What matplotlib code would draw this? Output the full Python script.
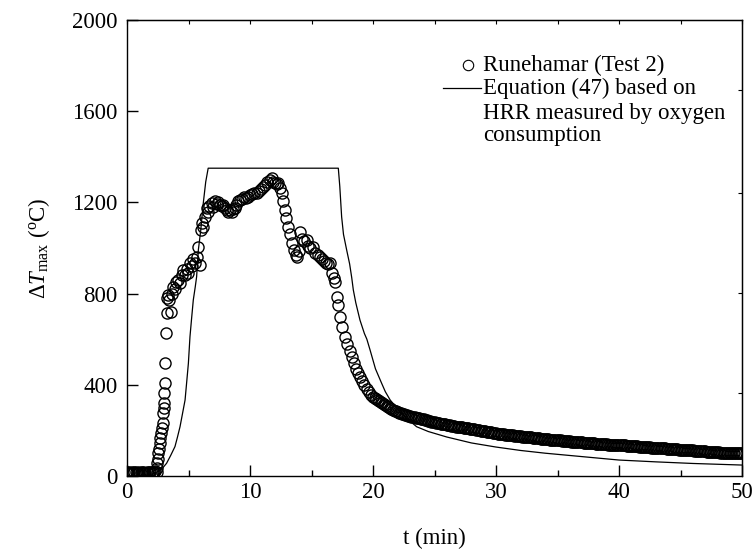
import matplotlib
matplotlib.use('Agg')
import matplotlib.pyplot as plt
import numpy as np

plt.rcParams['font.family'] = ['Liberation Serif', 'DejaVu Serif']
plt.rcParams['mathtext.fontset'] = 'custom'
plt.rcParams['mathtext.rm'] = 'Liberation Serif'
plt.rcParams['mathtext.it'] = 'Liberation Serif:italic'

# measured temperature rise, Runehamar Test 2 (circles)
t_start = [0.0, 0.1, 0.2, 0.3, 0.4, 0.5, 0.6, 0.7, 0.8, 0.9, 1.0, 1.1,
           1.2, 1.3, 1.4, 1.5, 1.6, 1.7, 1.8, 1.9, 2.0, 2.1, 2.2, 2.3]
dT_start = [16, 15, 17, 14, 16, 15, 16, 17, 15, 14, 16, 15,
            17, 16, 15, 14, 16, 15, 16, 17, 15, 16, 18, 20]

t_rise = [2.40, 2.43, 2.46, 2.50, 2.55, 2.60, 2.68, 2.72, 2.76, 2.83, 2.90,
          2.95, 2.98, 3.00, 3.03, 3.09, 3.12, 3.17, 3.22, 3.25, 3.30]
dT_rise = [19, 35, 56, 75, 99, 120, 143, 165, 187, 210, 231,
           275, 300, 319, 363, 406, 494, 628, 713, 780, 794]

t_peak = [3.45, 3.55, 3.65, 3.77, 3.9, 4.0, 4.17, 4.3, 4.45, 4.58, 4.7, 4.85,
          4.96, 5.12, 5.25, 5.4, 5.53, 5.66, 5.8, 5.93, 6.0, 6.1, 6.2, 6.34,
          6.48, 6.6, 6.7, 6.89, 7.0, 7.15, 7.3, 7.42, 7.55, 7.7, 7.83, 8.0,
          8.15, 8.25, 8.37, 8.5, 8.65, 8.78, 8.9, 9.05, 9.19, 9.35, 9.5, 9.7,
          9.86, 10.0, 10.2, 10.35, 10.54, 10.7, 10.9, 11.08, 11.25, 11.4, 11.6,
          11.76, 11.9, 12.05, 12.2, 12.3, 12.45, 12.58, 12.7, 12.85, 12.95,
          13.1, 13.25, 13.4, 13.55, 13.7, 13.8, 13.95, 14.07, 14.2, 14.35,
          14.6, 14.75, 14.9, 15.15, 15.3, 15.5, 15.7, 15.85, 16.0, 16.2,
          16.35, 16.5, 16.64, 16.8]
dT_peak = [772, 720, 800, 830, 820, 850, 860, 845, 880, 903, 880, 910,
           890, 934, 920, 950, 933, 962, 1006, 925, 1079, 1110, 1090, 1137,
           1174, 1160, 1185, 1196, 1180, 1205, 1195, 1203, 1190, 1185, 1189, 1175,
           1165, 1160, 1167, 1158, 1170, 1174, 1190, 1205, 1211, 1215, 1222, 1220,
           1225, 1232, 1235, 1240, 1240, 1250, 1260, 1269, 1275, 1290, 1300,
           1306, 1290, 1285, 1280, 1284, 1265, 1240, 1205, 1167, 1130,
           1094, 1060, 1020, 990, 970, 962, 985, 1072, 1040, 1030,
           1035, 1010, 1000, 1006, 980, 970, 962, 950, 945, 935,
           930, 933, 889, 870]

t_drop = [16.9, 17.05, 17.15, 17.3, 17.5, 17.7, 17.9, 18.1, 18.27, 18.45,
          18.6, 18.8, 18.94, 19.1, 19.3, 19.5, 19.7, 19.85, 20.0]
dT_drop = [850, 787, 750, 699, 655, 611, 580, 550, 523, 495,
           470, 450, 436, 418, 400, 382, 368, 356, 348]

# decay, logged every 7.5 s from 20.125 to 50 min
t_tail = np.arange(20.125, 50.001, 0.125)
dT_tail = [343, 338, 334, 329, 324, 320, 316, 312, 307, 303, 298, 294, 290, 287, 284, 281,
           278, 275, 272, 270, 268, 266, 264, 262, 260, 259, 257, 256, 254, 253, 251, 250,
           248, 247, 245, 243, 241, 239, 237, 235, 233, 232, 231, 230, 228, 227, 226, 225,
           223, 222, 221, 220, 218, 217, 216, 215, 214, 213, 212, 211, 210, 209, 207, 206,
           205, 204, 202, 201, 200, 199, 198, 197, 196, 195, 193, 192, 191, 190, 188, 187,
           186, 186, 185, 184, 183, 182, 181, 181, 180, 179, 178, 177, 176, 176, 175, 174,
           173, 173, 172, 171, 170, 170, 169, 168, 167, 167, 166, 165, 164, 164, 163, 162,
           161, 161, 160, 159, 158, 158, 157, 157, 156, 156, 155, 155, 154, 153, 152, 152,
           151, 151, 150, 150, 149, 149, 148, 147, 146, 146, 145, 145, 144, 144, 143, 143,
           142, 142, 141, 141, 140, 140, 139, 139, 138, 138, 137, 137, 136, 136, 136, 136,
           135, 135, 134, 134, 133, 133, 132, 132, 131, 131, 130, 130, 129, 129, 128, 128,
           127, 127, 126, 126, 125, 125, 124, 124, 123, 123, 122, 122, 121, 121, 120, 120,
           119, 119, 118, 118, 117, 117, 116, 116, 115, 115, 114, 114, 113, 113, 112, 112,
           111, 111, 110, 110, 109, 109, 108, 108, 107, 107, 106, 106, 105, 105, 104, 104,
           104, 103, 103, 103, 102, 102, 101, 101, 101, 101, 100, 100, 100, 100, 99, 99]

t_meas = np.concatenate([t_start, t_rise, t_peak, t_drop, t_tail])
dT_meas = np.concatenate([dT_start, dT_rise, dT_peak, dT_drop, dT_tail])

# Equation (47) prediction (line)
t_eq = [0, 2.0, 2.14, 2.55, 2.9, 3.22, 3.55, 3.9, 4.1, 4.31, 4.5, 4.72, 4.85,
        4.99, 5.12, 5.25, 5.39, 5.55, 5.66, 5.8, 6.0, 6.2, 6.4, 6.6, 17.18,
        17.3, 17.45, 17.6, 17.86, 18.1, 18.27, 18.4, 18.6, 18.94, 19.3, 19.5,
        19.76, 20.2, 20.7, 21.0, 21.4, 22.2, 22.8, 23.55, 24.5, 26, 28, 30,
        32, 34, 37, 40, 43, 46, 50]
dT_eq = [0, 2, 12, 19, 35, 56, 90, 129, 170, 216, 270, 333, 410,
         494, 611, 690, 772, 830, 874, 991, 1080, 1196, 1290, 1350, 1350,
         1270, 1137, 1060, 991, 930, 870, 816, 760, 684, 625, 600,
         553, 470, 407, 370, 333, 282, 250, 216, 195, 171, 145, 127,
         112, 100, 85, 70, 62, 55, 48]

fig = plt.figure(figsize=(7.55, 5.54), dpi=100)
ax = fig.add_axes([127 / 755, 78 / 554, 615 / 755, 456 / 554])

# hollow circles so the dense records build up into a dark band
ax.plot(t_meas, dT_meas, 'o', mfc='none', mec='black', ms=8, mew=1.0,
        zorder=3)
ax.plot(t_eq, dT_eq, '-', color='black', lw=0.9, zorder=4)

ax.set_xlim(0, 50)
ax.set_ylim(0, 2000)
ax.set_xticks(np.arange(0, 51, 10))
ax.set_xticks(np.arange(5, 50, 10), minor=True)
ax.set_yticks(np.arange(0, 2001, 400))
ax.tick_params(which='both', direction='in', labelsize=16.5, width=1.0)
ax.tick_params(which='major', length=8)
ax.tick_params(which='minor', length=4)
ax.tick_params(axis='y', pad=7)
ax.tick_params(axis='x', pad=4)
for s in ax.spines.values():
    s.set_linewidth(1.0)

top = ax.secondary_xaxis('top')
top.set_xticks(np.arange(0, 51, 5))
top.set_xticklabels([])
top.tick_params(direction='in', length=3, width=0.8)
right = ax.secondary_yaxis('right')
right.set_yticks([364, 802, 1241, 1693])
right.set_yticklabels([])
right.tick_params(direction='in', length=3, width=0.8)

ax.set_xlabel('t (min)', fontsize=16.5, labelpad=18)
ax.set_ylabel(r'$\Delta\mathit{T}_{\rm max}$ ($^{\rm o}$C)', fontsize=16.5,
              labelpad=14)

# legend drawn by hand to match the layout
ax.plot([0.555], [0.901], 'o', mfc='none', mec='black', ms=7.5, mew=0.8,
        transform=ax.transAxes, clip_on=False)
ax.plot([0.514, 0.576], [0.851, 0.851], '-', color='black', lw=0.9,
        transform=ax.transAxes)
legend_lines = ['Runehamar (Test 2)', 'Equation (47) based on',
                'HRR measured by oxygen', 'consumption']
for txt, yy in zip(legend_lines, [0.901, 0.851, 0.796, 0.746]):
    ax.text(0.579, yy, txt, transform=ax.transAxes, fontsize=16.5,
            va='center', ha='left')

fig.savefig('out.png', dpi=100)
